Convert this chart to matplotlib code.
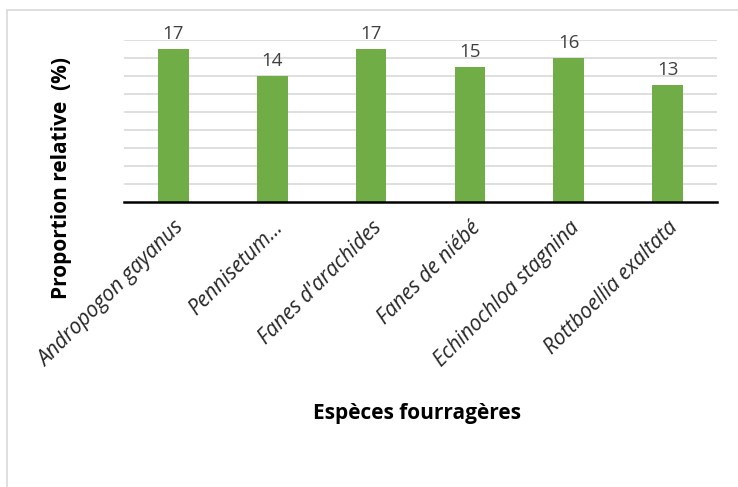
import matplotlib
matplotlib.use("Agg")
import matplotlib.pyplot as plt
from matplotlib.patches import Rectangle

categories = ["Andropogon gayanus", "Pennisetum...", "Fanes d'arachides",
              "Fanes de niébé", "Echinochloa stagnina", "Rottboellia exaltata"]
values = [17, 14, 17, 15, 16, 13]

W, H = 738, 487
fig = plt.figure(figsize=(W/100, H/100), dpi=100)
fig.patch.set_facecolor("white")

# chart border (cropped on the right/bottom)
fig.add_artist(Rectangle((7/W, -0.05), 1.2, 1 - 10/H + 0.05, transform=fig.transFigure,
                         fill=False, edgecolor="#d9d9d9", linewidth=1.2))

ax = fig.add_axes([124/W, 1 - 202/H, (717 - 124)/W, (202 - 40)/H])
x = range(len(categories))
bars = ax.bar(x, values, width=0.31, color="#70ad47", zorder=3)
ax.set_xlim(-0.5, len(categories) - 0.5)
ax.set_ylim(0, 18)
ax.set_yticks(range(2, 19, 2))
ax.yaxis.grid(True, color="#d9d9d9", linewidth=1.2, zorder=0)
ax.tick_params(axis="y", length=0, labelleft=False)
ax.tick_params(axis="x", length=0, pad=11)
for s in ["top", "right", "left"]:
    ax.spines[s].set_visible(False)
ax.spines["bottom"].set_color("black")
ax.spines["bottom"].set_linewidth(1.8)
ax.spines["bottom"].set_zorder(4)

ax.set_xticks(list(x))
ax.set_xticklabels(categories, rotation=45, ha="right", rotation_mode="anchor",
                   fontsize=15, fontstyle="italic", family="Open Sans", color="#262626")

for xi, v in zip(x, values):
    ax.annotate(str(v), (xi, v), xytext=(0, 4), textcoords="offset points",
                ha="center", va="bottom", fontsize=13.5, color="#404040", family="Open Sans")

fig.text(61/W, 1 - 178/H, "Proportion relative  (%)", rotation=90, ha="center", va="center",
         fontsize=15, fontweight="bold", family="Open Sans", color="black")
fig.text(417/W, 1 - 414/H, "Espèces fourragères", ha="center", va="center",
         fontsize=15, fontweight="bold", family="Open Sans", color="black")

fig.savefig("out.png", dpi=100)
